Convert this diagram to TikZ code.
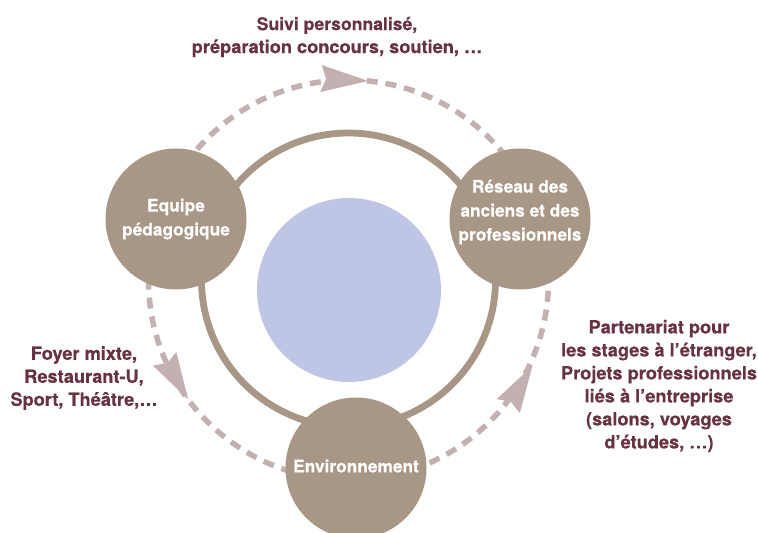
\documentclass[tikz,border=0pt]{standalone}
\usepackage{fontspec}
\setmainfont{TeX Gyre Heros}[BoldFeatures={FakeBold=0.35}]
\usetikzlibrary{calc}
\definecolor{circfill}{HTML}{A89686}
\definecolor{ringcol}{HTML}{A89686}
\definecolor{dashcol}{HTML}{C3B1B2}
\definecolor{bluefill}{HTML}{BEC5E5}
\definecolor{txtcol}{HTML}{673340}
\tikzset{
  bigcirc/.style={circle, fill=circfill, minimum size=141pt, inner sep=0pt},
  circtext/.style={text=white, font=\bfseries\fontsize{17.3}{24}\selectfont, align=center},
  outtext/.style={text=txtcol, font=\bfseries\fontsize{18.2}{23}\selectfont, align=center},
  dashring/.style={draw=dashcol, line width=5.5pt, dash pattern=on 11pt off 8pt},
  solidring/.style={draw=ringcol, line width=6.8pt},
  arrowhead/.style={fill=dashcol},
}
\begin{document}
\begin{tikzpicture}[x=1pt,y=1pt]
\useasboundingbox (0,0) rectangle (758,533);
\clip (0,0) rectangle (758,533);
\fill[white] (0,0) rectangle (758,533);
\coordinate (C) at (348.5,253);
% dashed circle
\draw[dashring] (C) circle[radius=200];
% solid ring
\draw[solidring] (C) circle[radius=147];
% blue disk
\node[circle, fill=bluefill, minimum size=184pt, inner sep=0pt] (hub) at (349,243) {};
% satellite circles
\node[bigcirc] (equipe) at (176,314) {};
\node[circtext] (equipetxt) at (equipe.center) {Equipe\\pédagogique};
\node[bigcirc] (reseau) at (520,314) {};
\node[circtext] (reseautxt) at ([yshift=7pt]reseau.center) {Réseau des\\anciens et des\\professionnels};
\node[bigcirc] (env) at (356,65) {};
\node[circtext] (envtxt) at ([yshift=2pt]env.center) {Environnement};
% arrowheads on the dashed circle
\coordinate (tipA) at ($(C)+(84.4:200)$);
\coordinate (tipB) at ($(C)+(216.7:200)$);
\coordinate (tipC) at ($(C)+(-25:203)$);
\fill[arrowhead, shift={(tipA)}, rotate=-3] (0,0) -- (-47,13.5) -- (-42,0) -- (-47,-13.5) -- cycle;
\fill[arrowhead, shift={(tipB)}, rotate=-60] (0,0) -- (-47,13.5) -- (-42,0) -- (-47,-13.5) -- cycle;
\fill[arrowhead, shift={(tipC)}, rotate=59] (0,0) -- (-47,13.5) -- (-42,0) -- (-47,-13.5) -- cycle;
% outer texts
\node[outtext] (toptxt) at (337,496) {\fontsize{17.6}{24}\selectfont Suivi personnalisé,\\préparation concours, soutien, …};
\node[outtext] (lefttxt) at (84,155) {Foyer mixte,\\Restaurant-U,\\Sport, Théâtre,…};
\node[outtext] (righttxt) at (659,147) {Partenariat pour\\les stages à l’étranger,\\Projets professionnels\\liés à l’entreprise\\(salons, voyages\\d’études, …)};
\end{tikzpicture}
\end{document}
